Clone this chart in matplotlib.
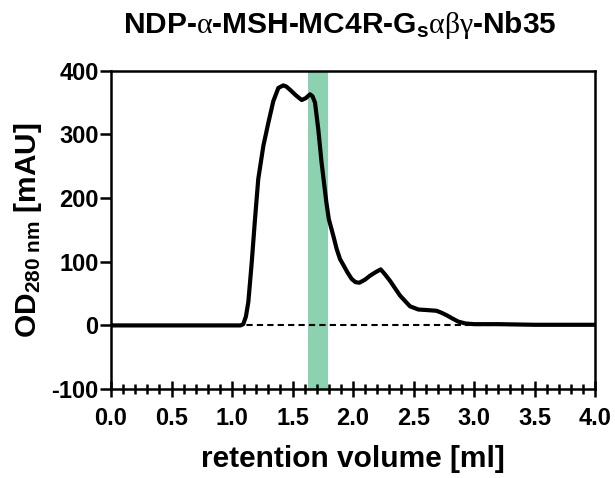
import numpy as np
import matplotlib
matplotlib.use("Agg")
import matplotlib.pyplot as plt
from matplotlib.ticker import MultipleLocator

# SEC trace
volume = [0.0, 0.5, 1.0, 1.07, 1.093, 1.115, 1.135, 1.163, 1.19, 1.217, 1.259,
          1.30, 1.341, 1.383, 1.424, 1.45, 1.48, 1.53, 1.576, 1.61, 1.645,
          1.665, 1.686, 1.713, 1.74, 1.78, 1.80, 1.837, 1.865, 1.893, 1.92,
          1.955, 1.989, 2.02, 2.052, 2.10, 2.14, 2.19, 2.229, 2.265, 2.306,
          2.388, 2.471, 2.54, 2.62, 2.69, 2.73, 2.774, 2.82, 2.87, 2.93,
          3.0, 3.2, 3.5, 4.0]
od280 = [0, 0, 0, 0, 2, 14, 37, 99, 167, 230, 282,
         318, 352, 373, 377, 375, 370, 361, 354, 357, 363,
         360, 350, 308, 256, 193, 167, 141, 120, 104, 95,
         83, 73, 68, 67, 72, 78, 84, 88, 80, 70,
         47, 30, 25, 24, 23, 20, 16, 11, 6, 3,
         2, 2, 1, 1]

fraction = (1.63, 1.79)   # highlighted fraction
xticks = np.arange(0, 4.01, 0.5)
yticks = [-100, 0, 100, 200, 300, 400]

plt.rcParams['font.family'] = 'Liberation Sans'
plt.rcParams['axes.unicode_minus'] = False
plt.rcParams['mathtext.fontset'] = 'custom'
plt.rcParams['mathtext.rm'] = 'Liberation Sans:bold'
plt.rcParams['mathtext.bf'] = 'Liberation Sans:bold'
plt.rcParams['mathtext.it'] = 'Liberation Serif:normal'

fig = plt.figure(figsize=(6.15, 4.78), dpi=100)
ax = fig.add_axes([0.1805, 0.186, 0.787, 0.666])

ax.axvspan(*fraction, color='#8CD2B0', lw=0, zorder=1)
ax.axhline(0, color='black', ls=(0, (3, 2)), lw=1.5, zorder=2)
ax.plot(volume, od280, color='black', lw=3, zorder=3,
        solid_joinstyle='round', solid_capstyle='round')

ax.set_xlim(0, 4)
ax.set_ylim(-100, 400)
ax.set_xticks(xticks)
ax.set_xticklabels([f"{v:.1f}" for v in xticks])
ax.set_yticks(yticks)
ax.set_yticklabels([str(v) for v in yticks])
ax.xaxis.set_minor_locator(MultipleLocator(0.1))

for s in ax.spines.values():
    s.set_linewidth(1.8)
ax.tick_params(axis='x', which='major', direction='inout', length=12, width=1.8,
               labelsize=17, pad=7)
ax.tick_params(axis='x', which='minor', direction='inout', length=7, width=1.8)
ax.tick_params(axis='y', direction='out', length=8, width=1.8, labelsize=17, pad=1)
for lbl in ax.get_xticklabels() + ax.get_yticklabels():
    lbl.set_fontweight('bold')

ax.set_xlabel('retention volume [ml]', fontsize=21.5, fontweight='bold', labelpad=11)
ax.set_ylabel(r'OD$_{\mathbf{280\ nm}}$ [mAU]', fontsize=21.5, fontweight='bold',
              labelpad=5)

fig.text(0.553, 0.947, r'NDP-$\alpha$-MSH-MC4R-G$_{\mathbf{s}}\alpha\beta\gamma$-Nb35',
         ha='center', va='center', fontsize=21.5, fontweight='bold')

fig.savefig('out.png', dpi=100)
